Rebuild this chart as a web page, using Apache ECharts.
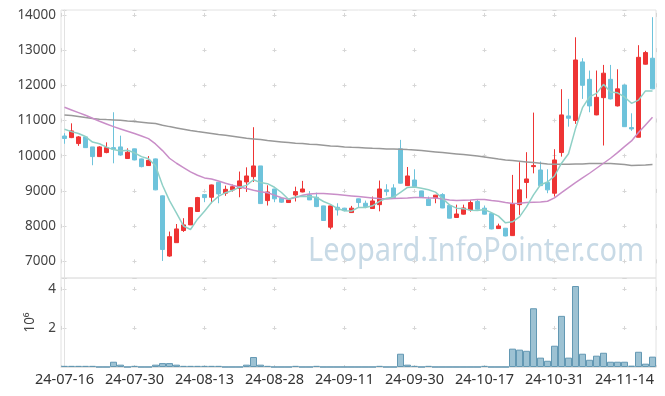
<!DOCTYPE html>
<html><head><meta charset="utf-8">
<script src="https://cdn.jsdelivr.net/npm/echarts@6/dist/echarts.min.js"></script>
<style>html,body{margin:0;padding:0;background:#fff}#c{width:665px;height:396px}</style>
</head><body><div id="c"></div>
<script>
const dates = ['24-07-16','24-07-17','24-07-18','24-07-19','24-07-22','24-07-23','24-07-24','24-07-25','24-07-26','24-07-29',
'24-07-30','24-07-31','24-08-01','24-08-02','24-08-05','24-08-06','24-08-07','24-08-08','24-08-09','24-08-12',
'24-08-13','24-08-14','24-08-16','24-08-19','24-08-20','24-08-21','24-08-22','24-08-23','24-08-26','24-08-27',
'24-08-28','24-08-29','24-08-30','24-09-02','24-09-03','24-09-04','24-09-05','24-09-06','24-09-09','24-09-10',
'24-09-11','24-09-12','24-09-13','24-09-19','24-09-20','24-09-23','24-09-24','24-09-25','24-09-26','24-09-27',
'24-09-30','24-10-02','24-10-04','24-10-07','24-10-08','24-10-10','24-10-11','24-10-14','24-10-15','24-10-16',
'24-10-17','24-10-18','24-10-21','24-10-22','24-10-23','24-10-24','24-10-25','24-10-28','24-10-29','24-10-30',
'24-10-31','24-11-01','24-11-04','24-11-05','24-11-06','24-11-07','24-11-08','24-11-11','24-11-12','24-11-13',
'24-11-14','24-11-15','24-11-18','24-11-19','24-11-20'];

const openP = [10560,10515,10345,10535,10250,9975,10090,10230,10250,9920,
10195,9910,9720,9910,8860,7150,7530,7875,8035,8415,
8895,8820,9245,8935,9030,9075,9255,9405,9710,8725,
9055,8790,8670,8885,8970,8885,8820,8575,7970,8535,
8510,8385,8775,8650,8500,8610,9030,9085,10195,9150,
9310,9000,8765,8800,8895,8585,8245,8340,8460,8700,
8510,8355,7930,7940,7730,8610,9240,9690,9595,9240,
8935,10090,11130,11000,12665,12170,11160,11650,12170,11415,
12010,10800,10525,12600,12770];

const closeP = [10490,10705,10535,10230,9975,10250,10230,10185,10020,10100,
9880,9690,9870,9030,7335,7700,7920,8035,8525,8810,
8810,9170,8915,9045,9120,9285,9425,9710,8640,8970,
8775,8680,8745,8980,9055,8745,8555,8160,8575,8460,
8440,8510,8670,8555,8715,9055,8980,8810,9220,9425,
9125,8810,8585,8880,8515,8225,8345,8515,8670,8480,
8340,7920,8005,7720,8630,9030,9340,9720,9150,9030,
9880,11160,11065,12720,12000,11415,11660,12345,11615,11900,
10825,10760,12795,12930,11900];

const lowP = [10340,10500,10280,10220,9730,9970,10070,9785,10000,9910,
9870,9670,9710,9020,7010,7130,7530,7835,8030,8410,
8680,8650,8650,8860,8980,8820,8970,9255,8630,8585,
8680,8660,8660,8700,8960,8740,8540,8150,7910,8300,
8420,8380,8515,8510,8490,8420,8865,8800,9210,9140,
9110,8800,8580,8650,8510,8220,8240,8330,8410,8470,
8330,7910,7920,7710,7720,8320,8790,9500,9140,8935,
8840,9975,10825,10905,11615,11235,11150,10290,11600,11400,
10820,10705,10520,12590,11890];

const highP = [10640,10920,10560,10540,10250,10270,10380,11235,10570,10210,
10200,9920,9990,9920,8870,7845,8060,8225,8530,8830,
8900,9180,9250,9150,9180,9550,9670,10810,9710,9160,
9060,8800,8760,9120,9285,8995,8950,8580,8580,8650,
8520,8575,8780,8725,8840,9295,9190,9190,10450,9680,
9615,9005,8840,8885,8935,8590,8610,8610,8745,8745,
8585,8360,8070,7945,9455,9815,10100,11225,9835,9615,
10185,11890,11615,13365,12770,12420,12420,12580,12580,12456,
12020,11205,13140,12980,13935];

const ma5 = [10750,10685,10630,10545,10387,10339,10244,10174,10132,10157,
10083,9975,9912,9714,9161,8725,8371,8004,7903,8198,
8420,8670,8846,8950,9012,9107,9158,9317,9236,9206,
9104,8955,8762,8830,8847,8841,8816,8699,8618,8499,
8438,8429,8531,8527,8578,8701,8795,8823,8956,9098,
9112,9078,9033,8965,8783,8603,8510,8496,8454,8447,
8470,8385,8283,8093,8123,8261,8545,8888,9174,9254,
9424,9788,10057,10771,11365,11672,11772,12028,11807,11787,
11669,11489,11579,11842,11842];

const ma20 = [11377,11301,11225,11149,11064,10979,10903,10827,10761,10695,
10629,10562,10487,10335,10146,9928,9786,9663,9540,9445,
9370,9341,9284,9218,9161,9114,9066,9019,8975,8950,
8880,8805,8763,8810,8877,8915,8924,8924,8915,8896,
8877,8858,8839,8820,8801,8782,8773,8782,8792,8801,
8811,8811,8801,8801,8773,8744,8725,8735,8744,8754,
8754,8725,8706,8670,8640,8649,8668,8678,8687,8706,
8801,8952,9094,9236,9369,9502,9644,9786,9928,10089,
10259,10420,10657,10875,11093];

const ma60 = [11159,11140,11112,11083,11055,11036,11026,11017,11007,10988,
10970,10951,10932,10913,10865,10827,10790,10752,10714,10685,
10657,10629,10600,10581,10553,10525,10496,10477,10458,10430,
10411,10392,10373,10354,10345,10326,10316,10297,10278,10269,
10250,10240,10231,10222,10212,10203,10193,10193,10184,10174,
10165,10146,10127,10108,10089,10070,10051,10032,10013,9994,
9966,9938,9909,9881,9862,9843,9824,9805,9786,9767,
9757,9757,9757,9767,9767,9776,9776,9776,9776,9767,
9748,9720,9729,9738,9748];

const volume = [60000,60000,60000,60000,60000,3000,3000,270000,120000,3000,
60000,3000,3000,120000,200000,200000,120000,60000,60000,60000,
60000,60000,60000,3000,3000,3000,120000,510000,120000,60000,
3000,3000,3000,60000,3000,3000,60000,3000,3000,3000,
3000,3000,3000,3000,3000,60000,3000,3000,680000,120000,
60000,3000,60000,3000,3000,3000,3000,3000,3000,3000,
60000,3000,3000,3000,940000,890000,830000,3010000,480000,320000,
1090000,2620000,480000,4150000,680000,370000,580000,730000,270000,270000,
270000,70000,780000,170000,530000];

const volumeUnit = 1e6;
const volumeName = '10\u2076';
const watermark = 'Leopard.InfoPointer.com';

// layout / style
const L = 61, R = 9, T = 10, MAIN_H = 268, VOL_H = 89;
const W = 665 - L - R;
const catW = W / dates.length;
const yMin = 6526, yMax = 14140, vMax = 4560000;
const crossLen = 4, crossColor = '#d6d6d6', borderColor = '#e2e2e2';

function xDash() {
  const period = catW * 10;
  const start = catW * 0.5 - crossLen / 2;
  return { type: [crossLen, period - crossLen], dashOffset: period - start };
}
function yDash(h, min, max, step) {
  const period = step / (max - min) * h;
  const firstTick = Math.floor(max / step) * step;
  const pos = (max - firstTick) / (max - min) * h;
  const start = pos - crossLen / 2;
  let off = (period - start) % period; if (off < 0) off += period;
  return { type: [crossLen, period - crossLen], dashOffset: off };
}
const xd = xDash();
const ydMain = yDash(MAIN_H, yMin, yMax, 1000);
const ydVol = yDash(VOL_H, 0, vMax, 2000000);

const font = '"Noto Sans", sans-serif';
const chart = echarts.init(document.getElementById('c'), null, { renderer: 'canvas' });
chart.setOption({
  animation: false,
  backgroundColor: '#fff',
  grid: [
    { left: L, right: R, top: T, height: MAIN_H, show: true, borderColor: borderColor, borderWidth: 1 },
    { left: L, right: R, top: T + MAIN_H, height: VOL_H, show: true, borderColor: borderColor, borderWidth: 1 }
  ],
  graphic: [{
    type: 'text', x: 308, y: 252, scaleX: 0.905, z: -10,
    style: { text: watermark, font: '32px ' + font, fill: '#c8dae6', verticalAlign: 'middle', textVerticalAlign: 'middle' }
  }],
  xAxis: [
    { type: 'category', gridIndex: 0, data: dates, boundaryGap: true,
      axisLine: { show: false }, axisTick: { show: false }, axisLabel: { show: false }, splitLine: { show: false } },
    { type: 'category', gridIndex: 1, data: dates, boundaryGap: true,
      axisLine: { show: true, lineStyle: { color: borderColor } }, axisTick: { show: false },
      axisLabel: { interval: 9, fontSize: 14.5, color: '#333', margin: 5, fontFamily: font },
      splitLine: { show: false } },
    { type: 'value', gridIndex: 0, min: -0.5, max: dates.length - 0.5, splitNumber: 8,
      axisLine: { show: false }, axisTick: { show: false }, axisLabel: { show: false },
      splitLine: { show: true, lineStyle: { color: crossColor, width: 1, type: ydMain.type, dashOffset: ydMain.dashOffset } } },
    { type: 'value', gridIndex: 1, min: -0.5, max: dates.length - 0.5, splitNumber: 8,
      axisLine: { show: false }, axisTick: { show: false }, axisLabel: { show: false },
      splitLine: { show: true, lineStyle: { color: crossColor, width: 1, type: ydVol.type, dashOffset: ydVol.dashOffset } } }
  ],
  yAxis: [
    { type: 'value', gridIndex: 0, min: yMin, max: yMax, splitNumber: 8,
      axisLine: { show: true, lineStyle: { color: borderColor } }, axisTick: { show: false },
      axisLabel: { fontSize: 13.5, color: '#444', margin: 5, showMinLabel: false, showMaxLabel: false, fontFamily: font,
        formatter: v => String(v) },
      splitLine: { show: true, lineStyle: { color: crossColor, width: 1, type: xd.type, dashOffset: xd.dashOffset } } },
    { type: 'value', gridIndex: 1, min: 0, max: vMax, splitNumber: 2,
      name: volumeName, nameLocation: 'middle', nameRotate: 90, nameGap: 22,
      nameTextStyle: { fontSize: 13.5, color: '#444', fontFamily: font },
      axisLine: { show: true, lineStyle: { color: borderColor } }, axisTick: { show: false },
      axisLabel: { fontSize: 13.5, color: '#444', margin: 5, showMinLabel: false, showMaxLabel: false, fontFamily: font,
        formatter: v => String(v / volumeUnit) },
      splitLine: { show: true, lineStyle: { color: crossColor, width: 1, type: xd.type, dashOffset: xd.dashOffset } } }
  ],
  series: [
    { type: 'candlestick', xAxisIndex: 0, yAxisIndex: 0, barWidth: 5,
      data: dates.map((d, i) => [openP[i], closeP[i], lowP[i], highP[i]]),
      itemStyle: { color: '#ee3434', color0: '#6ec3db', borderColor: '#ee3434', borderColor0: '#6ec3db', borderWidth: 1 } },
    { type: 'line', name: 'MA60', xAxisIndex: 0, yAxisIndex: 0, data: ma60, symbol: 'none',
      lineStyle: { color: '#999999', width: 1.5 }, z: 3 },
    { type: 'line', name: 'MA20', xAxisIndex: 0, yAxisIndex: 0, data: ma20, symbol: 'none',
      lineStyle: { color: '#c98ec8', width: 1.5 }, z: 3 },
    { type: 'line', name: 'MA5', xAxisIndex: 0, yAxisIndex: 0, data: ma5, symbol: 'none',
      lineStyle: { color: '#8fd0c6', width: 1.5 }, z: 3 },
    { type: 'bar', xAxisIndex: 1, yAxisIndex: 1, data: volume, barCategoryGap: '0%',
      itemStyle: { color: '#9dc2d3', borderColor: '#6398b3', borderWidth: 1 } }
  ]
});
</script>
</body></html>
